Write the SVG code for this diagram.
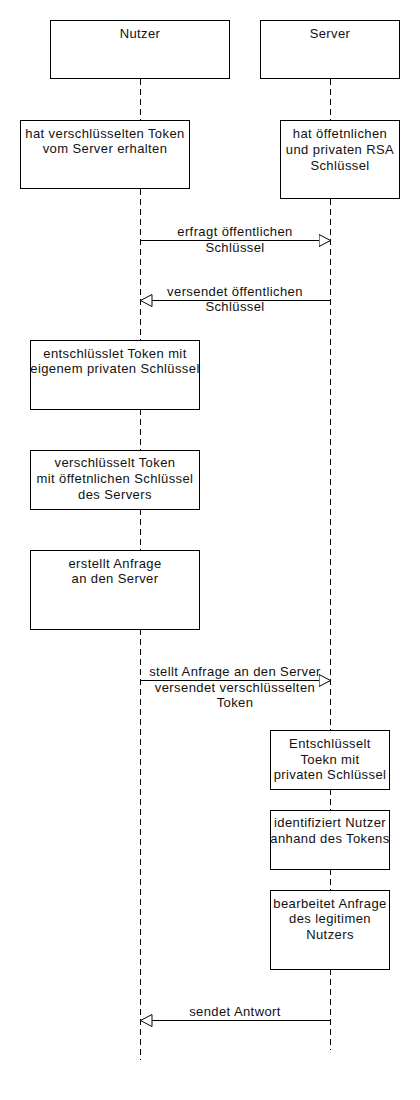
<svg xmlns="http://www.w3.org/2000/svg" width="420" height="1100" viewBox="0 0 420 1100">
<style>
rect.box{fill:#fff;stroke:#000;stroke-width:1}
.life{stroke:#000;stroke-width:1;stroke-dasharray:6 4;fill:none}
.msg{stroke:#000;stroke-width:1;fill:none}
text{font-family:"Liberation Sans",Arial,sans-serif;font-size:13px;letter-spacing:0.4px;fill:#111;text-anchor:middle}
</style>
<defs>
<marker id="open" markerUnits="userSpaceOnUse" markerWidth="14" markerHeight="14" refX="12" refY="6.5" orient="auto">
<path d="M0.5,0.5 L12,6.5 L0.5,12.5 Z" fill="#fff" stroke="#000" stroke-width="1"/>
</marker>
<clipPath id="c-n2"><rect x="30.5" y="340.5" width="169" height="69"/></clipPath>
<clipPath id="c-s3"><rect x="270.5" y="810.5" width="119" height="59"/></clipPath>
</defs>
<rect width="420" height="1100" fill="#fff"/>
<g id="connectors">
<line class="life" x1="140.5" y1="79" x2="140.5" y2="1060"/>
<line class="life" x1="330.5" y1="79" x2="330.5" y2="1050"/>
<g id="m1"><line class="msg" x1="140.5" y1="240.5" x2="330.5" y2="240.5" marker-end="url(#open)"/>
<text x="235" y="235.7">erfragt öffentlichen</text><text x="235" y="251.7">Schlüssel</text></g>
<g id="m2"><line class="msg" x1="330.5" y1="300.5" x2="140.5" y2="300.5" marker-end="url(#open)"/>
<text x="235" y="295.7">versendet öffentlichen</text><text x="235" y="311">Schlüssel</text></g>
<g id="m3"><line class="msg" x1="140.5" y1="680.5" x2="330.5" y2="680.5" marker-end="url(#open)"/>
<text x="235" y="676">stellt Anfrage an den Server</text><text x="235" y="691.7">versendet verschlüsselten</text><text x="235" y="706.7">Token</text></g>
<g id="m4"><line class="msg" x1="330.5" y1="1020.5" x2="140.5" y2="1020.5" marker-end="url(#open)"/>
<text x="235" y="1015.7">sendet Antwort</text></g>
</g>
<g id="nutzer"><rect class="box" x="50.5" y="20.5" width="179" height="58"/><text x="140" y="38">Nutzer</text></g>
<g id="server"><rect class="box" x="260.5" y="20.5" width="139" height="58"/><text x="330" y="38">Server</text></g>
<g id="n1"><rect class="box" x="20.5" y="120.5" width="169" height="68"/>
<text x="105" y="138">hat verschlüsselten Token</text><text x="105" y="152.5">vom Server erhalten</text></g>
<g id="s1"><rect class="box" x="280.5" y="120.5" width="119" height="78"/>
<text x="340" y="138">hat öffetnlichen</text><text x="340" y="154">und privaten RSA</text><text x="340" y="169.5">Schlüssel</text></g>
<g id="n2"><rect class="box" x="30.5" y="340.5" width="169" height="69"/>
<g clip-path="url(#c-n2)"><text x="115" y="357.7">entschlüsslet Token mit</text><text x="115" y="373.3">eigenem privaten Schlüssel</text></g></g>
<g id="n3"><rect class="box" x="30.5" y="450.5" width="169" height="59"/>
<text x="115" y="467.3">verschlüsselt Token</text><text x="115" y="483.3">mit öffetnlichen Schlüssel</text><text x="115" y="499.3">des Servers</text></g>
<g id="n4"><rect class="box" x="30.5" y="550.5" width="169" height="79"/>
<text x="115" y="567.7">erstellt Anfrage</text><text x="115" y="583.3">an den Server</text></g>
<g id="s2"><rect class="box" x="270.5" y="730.5" width="119" height="59"/>
<text x="330" y="748.3">Entschlüsselt</text><text x="330" y="764">Toekn mit</text><text x="330" y="779.3">privaten Schlüssel</text></g>
<g id="s3"><rect class="box" x="270.5" y="810.5" width="119" height="59"/>
<g clip-path="url(#c-s3)"><text x="330" y="827.3">identifiziert Nutzer</text><text x="330" y="843.3">anhand des Tokens</text></g></g>
<g id="s4"><rect class="box" x="270.5" y="890.5" width="119" height="79"/>
<text x="330" y="907.7">bearbeitet Anfrage</text><text x="330" y="923.3">des legitimen</text><text x="330" y="939">Nutzers</text></g>
</svg>
